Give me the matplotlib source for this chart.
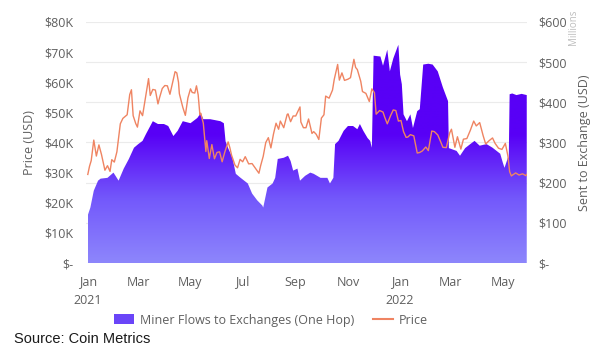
import numpy as np
import pandas as pd
import matplotlib
matplotlib.use("Agg")
import matplotlib.pyplot as plt
import matplotlib.dates as mdates
from matplotlib.colors import LinearSegmentedColormap
from matplotlib.patches import Patch
from matplotlib.lines import Line2D
from matplotlib.ticker import FuncFormatter

# ---------------------------------------------------------------------------
# Data
# ---------------------------------------------------------------------------

price_dates = [
    "2021-01-01", "2021-01-03", "2021-01-05", "2021-01-08", "2021-01-11", "2021-01-14",
    "2021-01-17", "2021-01-21", "2021-01-24", "2021-01-27", "2021-01-29", "2021-02-01",
    "2021-02-04", "2021-02-08", "2021-02-11", "2021-02-14", "2021-02-16", "2021-02-19",
    "2021-02-21", "2021-02-23", "2021-02-26", "2021-02-28", "2021-03-03", "2021-03-06",
    "2021-03-10", "2021-03-13", "2021-03-15", "2021-03-18", "2021-03-21", "2021-03-24",
    "2021-03-26", "2021-03-29", "2021-04-01", "2021-04-04", "2021-04-07", "2021-04-10",
    "2021-04-13", "2021-04-15", "2021-04-17", "2021-04-18", "2021-04-22", "2021-04-25",
    "2021-04-28", "2021-05-01", "2021-05-03", "2021-05-06", "2021-05-08", "2021-05-10",
    "2021-05-12", "2021-05-13", "2021-05-16", "2021-05-19", "2021-05-20", "2021-05-23",
    "2021-05-26", "2021-05-29", "2021-06-01", "2021-06-04", "2021-06-07", "2021-06-10",
    "2021-06-14", "2021-06-16", "2021-06-18", "2021-06-22", "2021-06-25", "2021-06-28",
    "2021-07-01", "2021-07-04", "2021-07-08", "2021-07-12", "2021-07-15", "2021-07-20",
    "2021-07-22", "2021-07-25", "2021-07-28", "2021-07-31", "2021-08-03", "2021-08-06",
    "2021-08-09", "2021-08-12", "2021-08-14", "2021-08-18", "2021-08-22", "2021-08-23",
    "2021-08-26", "2021-08-29", "2021-09-01", "2021-09-06", "2021-09-07", "2021-09-10",
    "2021-09-13", "2021-09-16", "2021-09-20", "2021-09-22", "2021-09-25", "2021-09-28",
    "2021-10-01", "2021-10-04", "2021-10-06", "2021-10-10", "2021-10-14", "2021-10-16",
    "2021-10-20", "2021-10-22", "2021-10-25", "2021-10-28", "2021-11-01", "2021-11-04",
    "2021-11-08", "2021-11-10", "2021-11-12", "2021-11-16", "2021-11-18", "2021-11-22",
    "2021-11-26", "2021-11-29", "2021-12-02", "2021-12-04", "2021-12-08", "2021-12-12",
    "2021-12-14", "2021-12-17", "2021-12-21", "2021-12-24", "2021-12-27", "2021-12-30",
    "2022-01-02", "2022-01-05", "2022-01-08", "2022-01-10", "2022-01-13", "2022-01-17",
    "2022-01-21", "2022-01-24", "2022-01-27", "2022-01-31", "2022-02-03", "2022-02-07",
    "2022-02-10", "2022-02-14", "2022-02-17", "2022-02-20", "2022-02-24", "2022-02-28",
    "2022-03-02", "2022-03-06", "2022-03-09", "2022-03-13", "2022-03-16", "2022-03-20",
    "2022-03-24", "2022-03-28", "2022-03-31", "2022-04-04", "2022-04-08", "2022-04-11",
    "2022-04-15", "2022-04-19", "2022-04-22", "2022-04-26", "2022-04-30", "2022-05-04",
    "2022-05-07", "2022-05-09", "2022-05-11", "2022-05-13", "2022-05-16", "2022-05-20",
    "2022-05-24", "2022-05-28", "2022-05-29",
]
price_k = [
    29.4, 32.1, 34.0, 40.8, 35.5, 39.2,
    36.0, 30.8, 32.3, 30.4, 34.3, 33.5,
    36.9, 46.2, 48.0, 48.7, 49.2, 55.9,
    57.5, 48.9, 46.3, 45.1, 50.5, 48.9,
    55.9, 61.2, 55.6, 57.6, 57.4, 52.8,
    55.0, 57.9, 58.9, 58.8, 56.0, 59.8,
    63.5, 63.1, 60.0, 56.2, 51.7, 49.0,
    54.8, 57.8, 56.6, 56.4, 58.8, 55.8,
    49.2, 49.7, 46.4, 37.0, 40.6, 34.7,
    39.3, 34.6, 36.7, 36.9, 33.6, 36.7,
    40.2, 38.3, 35.8, 32.5, 31.6, 34.4,
    33.6, 35.3, 32.9, 33.0, 31.8, 29.8,
    32.3, 35.4, 40.0, 41.6, 38.2, 42.8,
    46.4, 44.4, 47.1, 44.9, 49.3, 49.5,
    46.9, 48.8, 48.8, 51.8, 46.8, 44.9,
    44.9, 47.8, 43.0, 43.6, 42.7, 41.0,
    48.1, 49.2, 55.4, 54.7, 57.4, 60.9,
    65.9, 60.7, 63.1, 60.6, 61.0, 61.5,
    67.6, 64.9, 64.2, 60.3, 56.9, 56.3,
    53.6, 57.8, 56.5, 49.4, 50.6, 50.1,
    48.4, 46.2, 49.0, 50.8, 50.6, 47.1,
    47.3, 43.6, 41.7, 41.8, 42.6, 42.2,
    36.5, 36.7, 37.2, 38.5, 37.3, 43.8,
    43.6, 42.5, 40.5, 38.4, 38.3, 43.2,
    44.4, 38.4, 41.9, 37.8, 41.1, 41.3,
    44.0, 47.1, 45.5, 46.6, 42.3, 39.5,
    40.6, 41.5, 39.7, 38.1, 37.7, 39.7,
    35.5, 30.3, 28.9, 29.3, 29.9, 29.2,
    29.6, 29.0, 29.4,
]

flow_dates = [
    "2021-01-01", "2021-01-04", "2021-01-08", "2021-01-13", "2021-01-16", "2021-01-24",
    "2021-01-31", "2021-02-06", "2021-02-12", "2021-02-18", "2021-02-24", "2021-03-01",
    "2021-03-06", "2021-03-10", "2021-03-12", "2021-03-18", "2021-03-24", "2021-03-31",
    "2021-04-05", "2021-04-11", "2021-04-16", "2021-04-22", "2021-05-01", "2021-05-09",
    "2021-05-13", "2021-05-16", "2021-05-24", "2021-06-05", "2021-06-09", "2021-06-11",
    "2021-06-14", "2021-06-19", "2021-06-23", "2021-06-28", "2021-07-07", "2021-07-12",
    "2021-07-18", "2021-07-24", "2021-07-25", "2021-07-30", "2021-08-05", "2021-08-08",
    "2021-08-11", "2021-08-18", "2021-08-23", "2021-08-26", "2021-08-29", "2021-09-03",
    "2021-09-06", "2021-09-12", "2021-09-18", "2021-09-22", "2021-09-30", "2021-10-08",
    "2021-10-11", "2021-10-15", "2021-10-17", "2021-10-21", "2021-10-27", "2021-11-01",
    "2021-11-07", "2021-11-12", "2021-11-15", "2021-11-19", "2021-11-24", "2021-11-27",
    "2021-11-29", "2021-12-01", "2021-12-09", "2021-12-12", "2021-12-17", "2021-12-20",
    "2021-12-24", "2021-12-29", "2021-12-30", "2022-01-01", "2022-01-03", "2022-01-05",
    "2022-01-09", "2022-01-13", "2022-01-16", "2022-01-21", "2022-01-24", "2022-01-28",
    "2022-02-03", "2022-02-08", "2022-02-14", "2022-02-20", "2022-02-26", "2022-02-27",
    "2022-03-08", "2022-03-12", "2022-03-18", "2022-03-24", "2022-03-29", "2022-04-04",
    "2022-04-12", "2022-04-19", "2022-04-28", "2022-05-01", "2022-05-03", "2022-05-07",
    "2022-05-08", "2022-05-09", "2022-05-12", "2022-05-17", "2022-05-23", "2022-05-29",
]
flow_m = [
    119, 138, 180, 205, 210, 212,
    225, 205, 235, 259, 287, 296,
    304, 321, 329, 353, 346, 346,
    341, 316, 329, 353, 348, 361,
    373, 358, 358, 353, 348, 303,
    286, 262, 222, 213, 198, 173,
    156, 143, 138, 188, 198, 212,
    259, 262, 267, 254, 230, 235,
    205, 217, 225, 222, 212, 212,
    198, 212, 296, 304, 329, 341,
    341, 333, 346, 329, 311, 304,
    287, 516, 514, 491, 531, 477,
    509, 538, 543, 469, 445, 370,
    353, 370, 336, 378, 383, 494,
    496, 494, 477, 437, 403, 286,
    279, 267, 286, 296, 304, 292,
    296, 287, 272, 250, 237, 262,
    262, 420, 422, 418, 421, 418,
]

# ---------------------------------------------------------------------------
# Theme
# ---------------------------------------------------------------------------

_TICK   = "#5f5f5f"
_GRID   = "#ebebeb"
_PRICE  = "#ef8462"
_TOP    = "#5800f6"
_BOTTOM = "#8d86fc"

plt.rcParams["font.family"] = ["Open Sans", "DejaVu Sans"]

px = pd.to_datetime(price_dates)
py = np.array(price_k) * 1000
fx = mdates.date2num(pd.to_datetime(flow_dates))
fy = np.array(flow_m, dtype=float)

fig = plt.figure(figsize=(6.02, 3.54), dpi=100)
ax2 = fig.add_axes([0.143, 0.257, 0.732, 0.681])   # flows (right scale)
ax = fig.add_axes(ax2.get_position(), sharex=ax2)   # price (left scale)
ax.set_zorder(ax2.get_zorder() + 1)
ax.patch.set_visible(False)

# ---- gradient area (saturates around the 300M level) ----
poly = ax2.fill_between(fx, fy, 0, color="none", lw=0)
cmap = LinearSegmentedColormap.from_list("flow", [_BOTTOM, "#7358fb", _TOP])
grad = np.clip(np.linspace(0, 600, 300) / 320, 0, 1).reshape(-1, 1)
img = ax2.imshow(grad, extent=[fx[0], fx[-1], 0, 600], origin="lower",
                 aspect="auto", cmap=cmap, vmin=0, vmax=1, zorder=2)
img.set_clip_path(poly.get_paths()[0], transform=ax2.transData)

ax2.set_ylim(0, 600)
ax2.set_yticks(range(0, 601, 100))
ax2.yaxis.set_major_formatter(FuncFormatter(lambda v, p: "$-" if v == 0 else f"${v:.0f}"))
ax2.yaxis.tick_right()
ax2.yaxis.set_label_position("right")
ax2.grid(axis="y", color=_GRID, lw=0.8, zorder=0)
ax2.set_axisbelow(True)
ax2.set_ylabel("Sent to Exchange (USD)", color=_TICK, fontsize=9, labelpad=8)

# ---- price line ----
ax.plot(px, py, color=_PRICE, lw=1.0, zorder=3)
ax.set_ylim(0, 80000)
ax.set_yticks(range(0, 80001, 10000))
ax.yaxis.set_major_formatter(FuncFormatter(lambda v, p: "$-" if v == 0 else f"${v/1000:.0f}K"))
ax.set_ylabel("Price (USD)", color=_TICK, fontsize=9, labelpad=6)

# ---- x axis ----
ax2.set_xlim(mdates.date2num(pd.Timestamp("2020-12-30")), fx[-1])
ticks = pd.date_range("2021-01-01", "2022-05-01", freq="2MS")
ax2.set_xticks(mdates.date2num(ticks))
ax2.set_xticklabels([t.strftime("%b") + ("\n" + t.strftime("%Y") if t.month == 1 else "") for t in ticks])
ax.tick_params(axis="x", labelbottom=False, length=0)

for a in (ax, ax2):
    for s in a.spines.values():
        s.set_visible(False)
    a.tick_params(length=0, labelsize=9, colors=_TICK)
ax.tick_params(axis="y", pad=9)
ax2.tick_params(axis="y", pad=8)
ax2.tick_params(axis="x", pad=9)
for lbl in ax2.get_xticklabels():
    lbl.set_linespacing(1.5)

fig.text(0.952, 0.972, "Millions", rotation=90, color="#bdbdbd", fontsize=7, ha="center", va="top")

# ---- legend ----
handles = [Patch(facecolor="#6a45f8", edgecolor="none"),
           Line2D([], [], color=_PRICE, lw=1.5)]
fig.legend(handles, ["Miner Flows to Exchanges (One Hop)", "Price"], loc="center",
           bbox_to_anchor=(0.45, 0.096), ncol=2, frameon=False, fontsize=9,
           labelcolor=_TICK, handlelength=1.6, handleheight=0.8, columnspacing=1.5, handletextpad=0.5)

fig.text(0.023, 0.03, "Source: Coin Metrics", fontsize=10.5, color="#1a1a1a",
         family="Liberation Sans", ha="left", va="baseline")

fig.savefig("out.png", dpi=100, facecolor="white")
